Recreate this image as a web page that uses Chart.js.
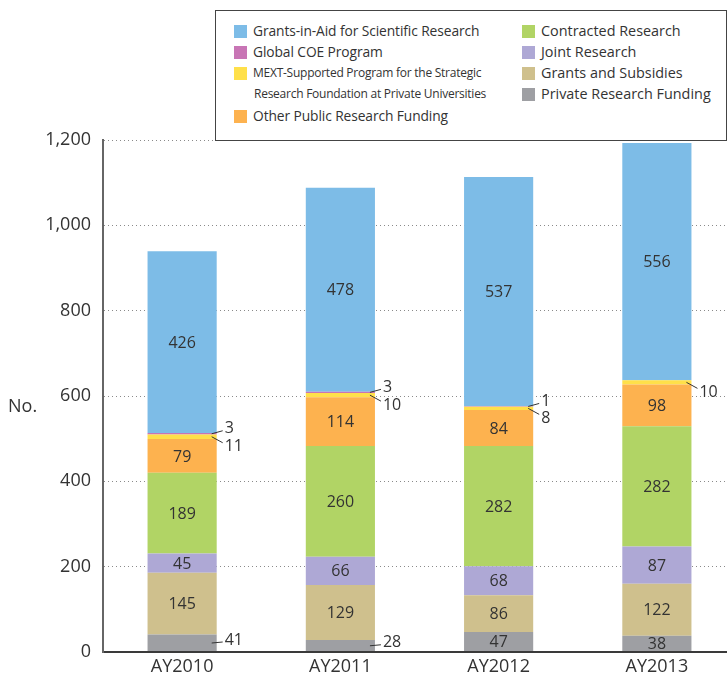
<!DOCTYPE html>
<html>
<head>
<meta charset="utf-8">
<script src="https://cdn.jsdelivr.net/npm/chart.js@4.4.1/dist/chart.umd.min.js"></script>
<style>
  html, body { margin: 0; padding: 0; background: #fff; }
  body { width: 727px; height: 680px; overflow: hidden; position: relative; font-family: 'Open Sans', sans-serif; color: #333; }
  #wrap { position: absolute; left: 0; top: 0; width: 736px; height: 680px; }
  #legend { position: absolute; left: 215px; top: 10px; width: 510px; height: 129px; border: 1px solid #444; background: #fff; }
  .item { position: absolute; font-size: 13.8px; line-height: 16px; white-space: nowrap; color: #333; letter-spacing: -0.1px; }
  .item.right { font-size: 14.4px; letter-spacing: 0; }
  .item i { position: absolute; left: -19px; top: 2px; width: 13px; height: 13px; }
  .item.small { font-size: 12px; letter-spacing: -0.25px; }
  #ylabel { position: absolute; left: 8px; top: 393px; font-size: 18px; color: #333; }
</style>
</head>
<body>
<div id="wrap"><canvas id="chart" width="736" height="680"></canvas></div>
<div id="legend"></div>
<div id="ylabel">No.</div>
<script>
const years = ['AY2010', 'AY2011', 'AY2012', 'AY2013'];
const privateFunding = [41, 28, 47, 38];
const grantsSubsidies = [145, 129, 86, 122];
const jointResearch = [45, 66, 68, 87];
const contractedResearch = [189, 260, 282, 282];
const otherPublic = [79, 114, 84, 98];
const mextStrategic = [11, 10, 8, 10];
const globalCoe = [3, 3, 1, 0];
const grantsInAid = [426, 478, 537, 556];
const yMax = 1200;
const yStep = 200;

const series = [
  { key: 'private', label: 'Private Research Funding', data: privateFunding, color: '#9e9fa3' },
  { key: 'subsidies', label: 'Grants and Subsidies', data: grantsSubsidies, color: '#cfc08d' },
  { key: 'joint', label: 'Joint Research', data: jointResearch, color: '#aea8d5' },
  { key: 'contracted', label: 'Contracted Research', data: contractedResearch, color: '#b1d465' },
  { key: 'other', label: 'Other Public Research Funding', data: otherPublic, color: '#fdb24f' },
  { key: 'mext', label: 'MEXT-Supported Program for the Strategic Research Foundation at Private Universities', data: mextStrategic, color: '#ffe04a' },
  { key: 'coe', label: 'Global COE Program', data: globalCoe, color: '#c875b5' },
  { key: 'gia', label: 'Grants-in-Aid for Scientific Research', data: grantsInAid, color: '#7dbce7' },
];

// labels drawn beside the bar with a short leader line (dy = vertical shift)
const outside = {
  coe: { dy: -5, index: [0, 1, 2, 3] },
  mext: { dy: 10, index: [0, 1, 2, 3] },
  private: { dy: -3, index: [0, 1] },
};

// html legend
const legendEl = document.getElementById('legend');
const legendLayout = [
  ['gia', 37, 12], ['coe', 37, 33], ['mext', 37, 54], ['other', 37, 97],
  ['contracted', 325, 12], ['joint', 325, 33], ['subsidies', 325, 54], ['private', 325, 75],
];
legendLayout.forEach(([key, left, top]) => {
  const s = series.find((d) => d.key === key);
  const el = document.createElement('div');
  el.className = 'item' + (left > 200 ? ' right' : '');
  el.style.left = left + 'px';
  el.style.top = top + 'px';
  if (key === 'mext') {
    el.classList.add('small');
    el.innerHTML = `<i style="background:${s.color}"></i>MEXT-Supported Program for the Strategic<br><span style="display:inline-block;margin-left:1px;margin-top:5px">Research Foundation at Private Universities</span>`;
  } else {
    el.innerHTML = `<i style="background:${s.color}"></i>${s.label}`;
  }
  legendEl.appendChild(el);
});

const barLabels = {
  id: 'barLabels',
  afterDatasetsDraw(chart) {
    const { ctx } = chart;
    ctx.save();
    ctx.font = '16px "Open Sans"';
    ctx.fillStyle = '#333';
    ctx.strokeStyle = '#333';
    ctx.lineWidth = 1;
    chart.data.datasets.forEach((ds, di) => {
      const meta = chart.getDatasetMeta(di);
      const out = outside[ds.key];
      meta.data.forEach((bar, i) => {
        const value = ds.data[i];
        if (!value) return;
        const { x, y, base, width } = bar.getProps(['x', 'y', 'base', 'width'], true);
        const segY = (y + base) / 2;
        if (out && out.index.includes(i)) {
          const tx = x + width / 2 + 8;
          const ty = segY + out.dy;
          ctx.beginPath();
          ctx.moveTo(x + width / 2 - 5, segY);
          ctx.lineTo(tx - 2, ty + (out.dy < 0 ? 2 : -4));
          ctx.stroke();
          ctx.textAlign = 'left';
          ctx.textBaseline = 'middle';
          ctx.fillText(String(value), tx, ty);
        } else {
          ctx.textAlign = 'center';
          ctx.textBaseline = 'middle';
          ctx.fillText(String(value), x, segY + 1);
        }
      });
    });
    ctx.restore();
  },
};

new Chart(document.getElementById('chart').getContext('2d'), {
  type: 'bar',
  data: {
    labels: years,
    datasets: series.map((s) => ({
      key: s.key,
      label: s.label,
      data: s.data,
      backgroundColor: s.color,
      borderWidth: 0,
      barPercentage: 0.437,
      categoryPercentage: 1,
    })),
  },
  options: {
    responsive: false,
    animation: false,
    layout: { padding: { top: 140, right: 0, bottom: 0, left: 0 } },
    plugins: {
      legend: { display: false },
      tooltip: { enabled: false },
    },
    scales: {
      x: {
        stacked: true,
        grid: { display: false, drawTicks: false },
        border: { display: true, color: '#3a3a3a', width: 2, z: 1 },
        ticks: { color: '#333', padding: 4, font: { family: 'Open Sans', size: 18 } },
        afterFit: (scale) => { scale.height = 28; },
      },
      y: {
        stacked: true,
        min: 0,
        max: yMax,
        grid: { color: '#8a8a8a', lineWidth: 1, drawTicks: false },
        border: { display: true, color: '#666', width: 2, dash: [1, 3], z: 1 },
        ticks: {
          stepSize: yStep,
          color: '#333',
          padding: 12,
          font: { family: 'Open Sans', size: 18 },
          callback: (v) => v.toLocaleString('en-US'),
        },
        afterFit: (scale) => { scale.width = 103; },
      },
    },
  },
  plugins: [barLabels],
});
</script>
</body>
</html>
